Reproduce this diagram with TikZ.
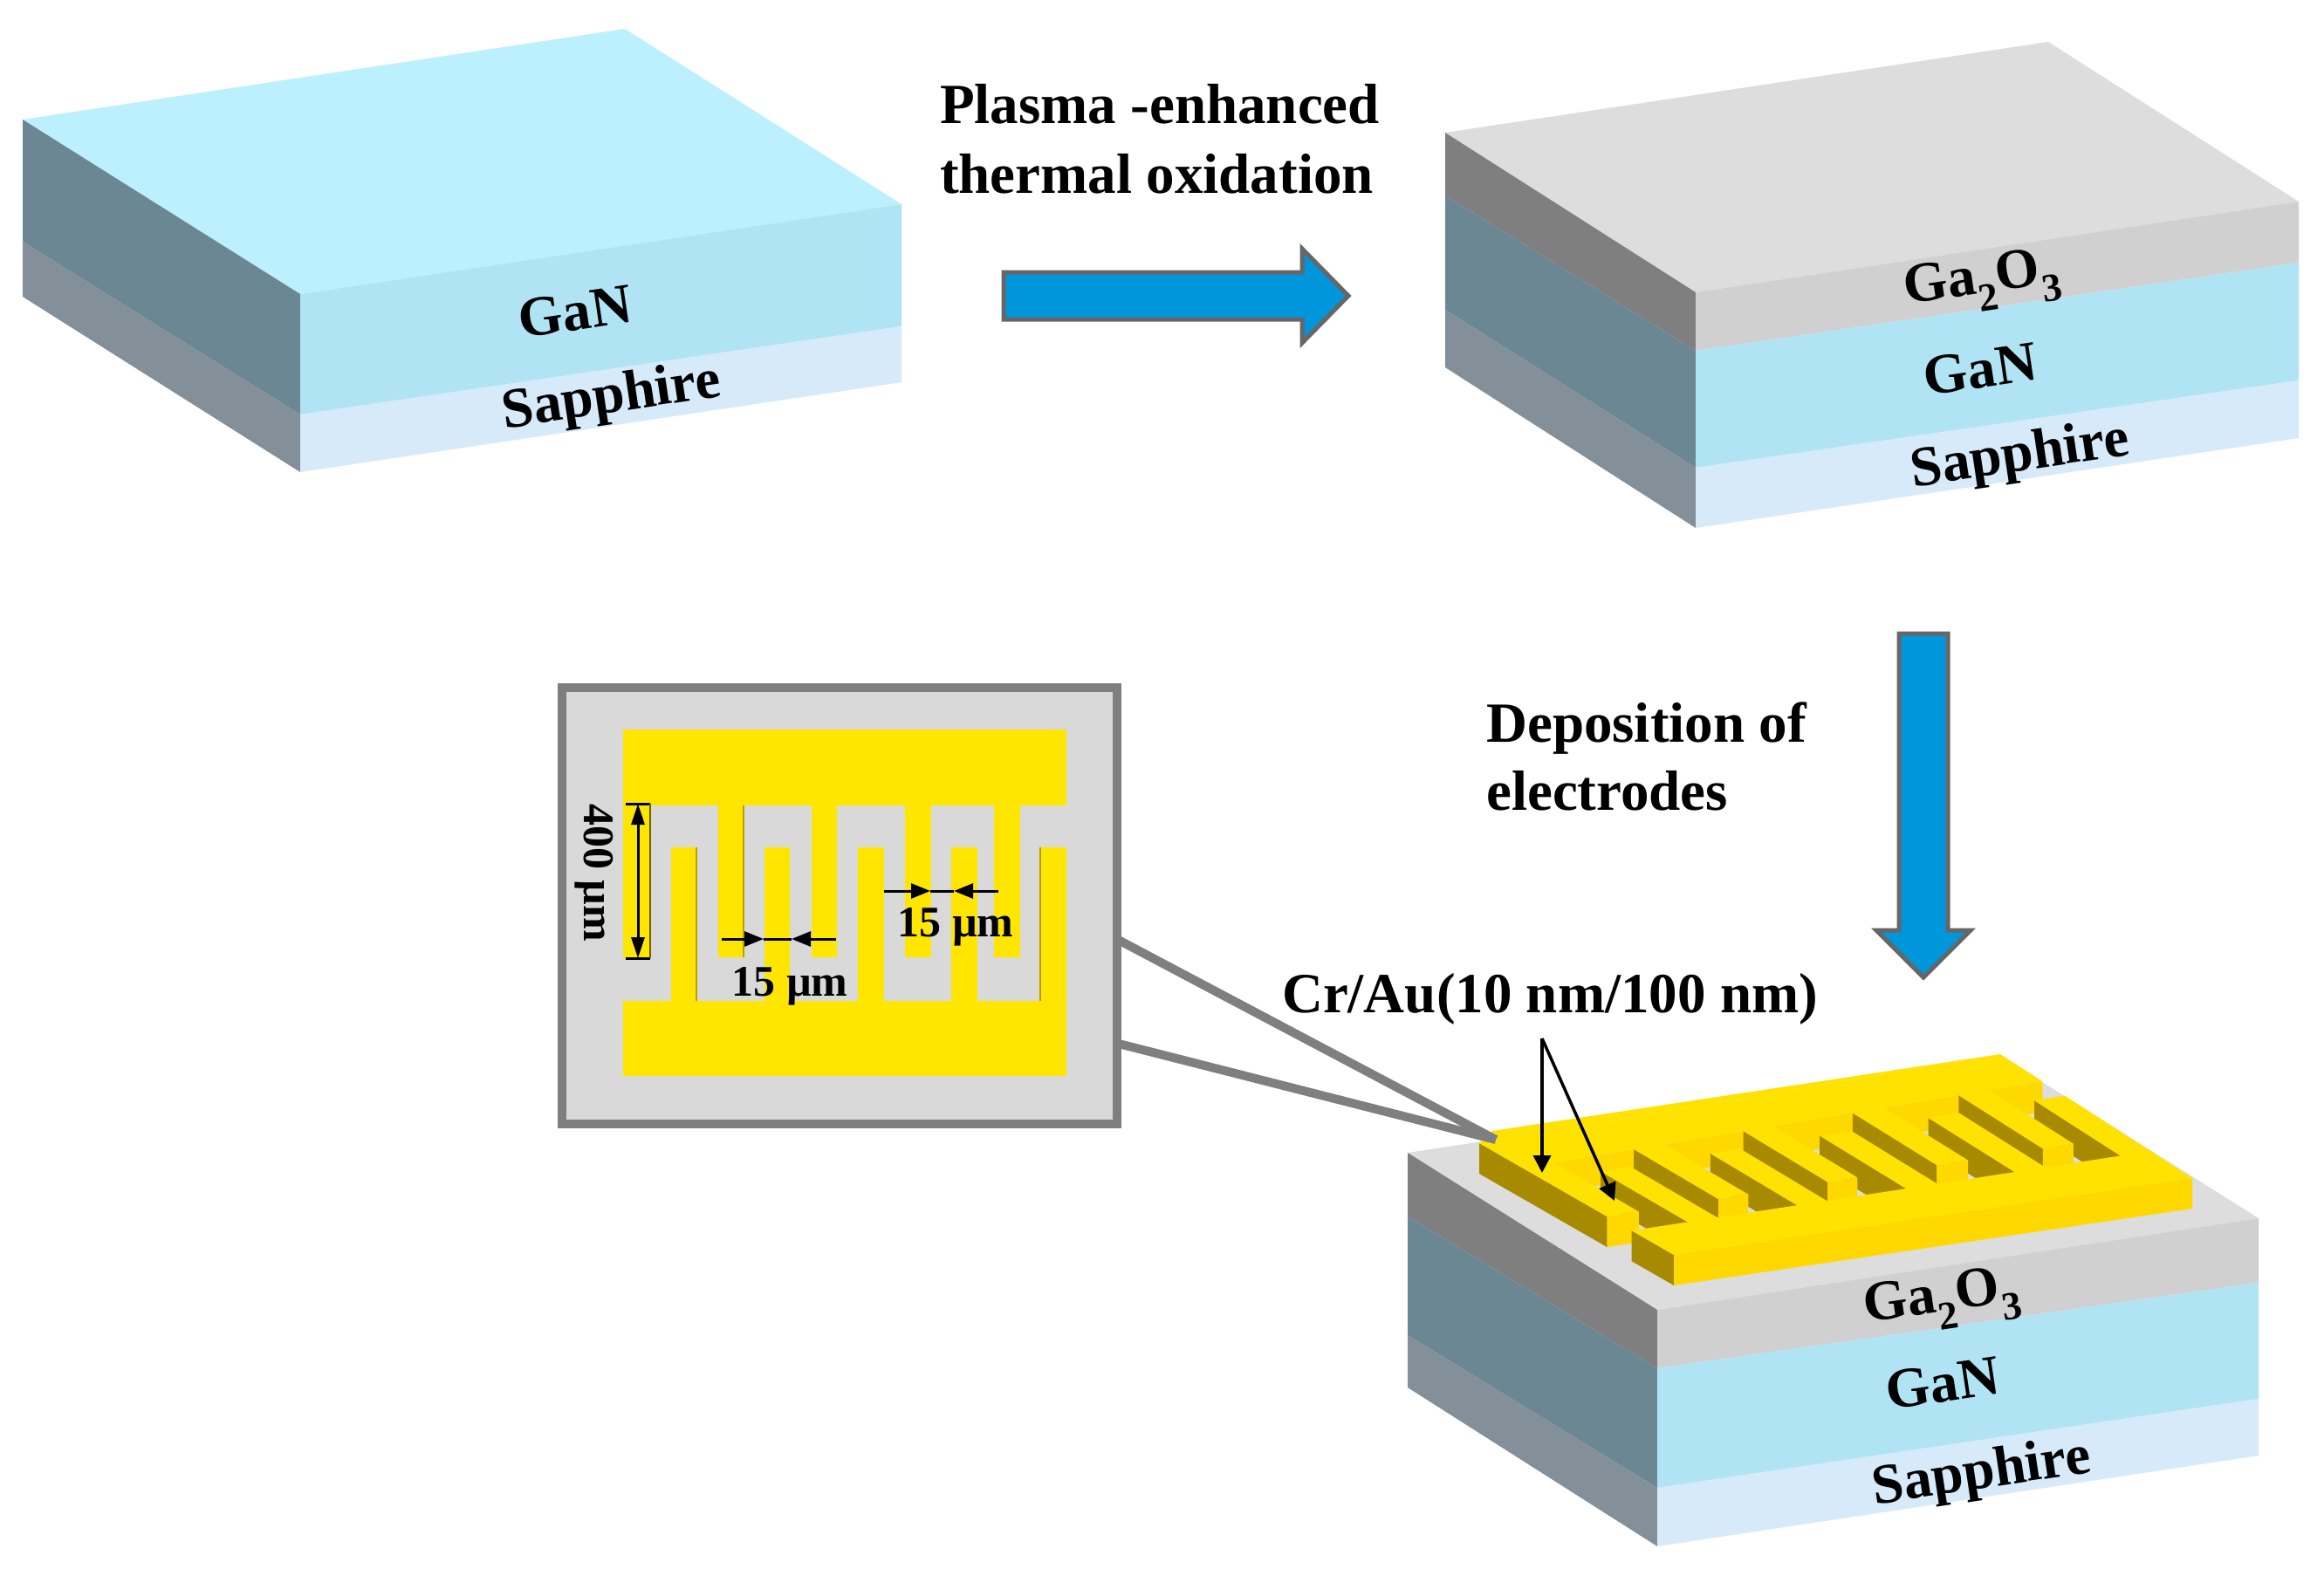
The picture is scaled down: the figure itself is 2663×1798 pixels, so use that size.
\documentclass[tikz,border=0pt]{standalone}
\usepackage{fontspec}
\setmainfont{Liberation Serif}
\usetikzlibrary{calc,arrows.meta}
\definecolor{topblue}{HTML}{BDF0FF}
\definecolor{ganfront}{HTML}{B0E4F5}
\definecolor{ganside}{HTML}{6C8794}
\definecolor{sapfront}{HTML}{D6EAF9}
\definecolor{sapside}{HTML}{838F99}
\definecolor{oxtop}{HTML}{DDDDDD}
\definecolor{oxfront}{HTML}{D0D0D0}
\definecolor{oxside}{HTML}{7F7F7F}
\definecolor{goldtop}{HTML}{FFE200}
\definecolor{goldfront}{HTML}{FFD800}
\definecolor{goldside}{HTML}{A88A00}
\definecolor{inset}{HTML}{FFE600}
\definecolor{insetedge}{HTML}{B89F00}
\definecolor{arrowblue}{HTML}{0096DC}
\tikzset{
  head/.style={font=\bfseries\fontsize{65}{78}\selectfont,inner sep=0pt,anchor=base west},
  lay/.style={font=\bfseries\fontsize{65}{70}\selectfont,inner sep=0pt,rotate=8.5},
  dim/.style={font=\bfseries\fontsize{50}{56}\selectfont,inner sep=0pt,anchor=base},
  flow/.style={draw=black!60,line width=5pt,fill=arrowblue,line join=miter},
  zoomline/.style={draw=oxside,line width=10pt},
  lead/.style={draw=black,line width=3.5pt,-{Stealth[length=20pt,width=20pt,inset=0pt]}},
  tick/.style={draw=black,line width=3pt,-{Stealth[length=22pt,width=17pt,inset=0pt]}},
}
% point on the electrode plane, u along the bus, v in depth
\newcommand{\cp}[3]{\coordinate (#3) at ($($(P00)!#2!(P01)$)!#1!($(P10)!#2!(P11)$)$);}
% one gold box: left face, front face, top face
\newcommand{\gbox}[4]{
  \cp{#1}{#3}{ga}
  \cp{#2}{#3}{gb}
  \cp{#2}{#4}{gc}
  \cp{#1}{#4}{gd}
  \fill[goldside] (ga) -- (gd) -- ($(gd)+(0,35)$) -- ($(ga)+(0,35)$) -- cycle;
  \fill[goldfront] (gd) -- (gc) -- ($(gc)+(0,35)$) -- ($(gd)+(0,35)$) -- cycle;
  \fill[goldtop] (ga) -- (gb) -- (gc) -- (gd) -- cycle;
}
\begin{document}
\begin{tikzpicture}[x=1pt,y=-1pt]
\fill[white] (0,0) rectangle (2663,1798);
\useasboundingbox (0,0) rectangle (2663,1798);

% block 1
\fill[topblue] (26,137) -- (716,33) -- (1033,234) -- (344,337) -- cycle;
\fill[ganside] (26,137) -- (344,337) -- (344,475) -- (26,277) -- cycle;
\fill[sapside] (26,277) -- (344,475) -- (344,541) -- (26,340) -- cycle;
\fill[ganfront] (344,337) -- (1033,234) -- (1033,374) -- (344,475) -- cycle;
\fill[sapfront] (344,475) -- (1033,374) -- (1033,438) -- (344,541) -- cycle;
\node[lay] (gan1) at (659,357) {GaN};
\node[lay] (sap1) at (701,457) {Sapphire};

% block 2
\fill[oxtop] (1656,152) -- (2347,48) -- (2634,231) -- (1943,335) -- cycle;
\fill[oxside] (1656,152) -- (1943,335) -- (1943,402) -- (1656,224) -- cycle;
\fill[ganside] (1656,224) -- (1943,402) -- (1943,536) -- (1656,355) -- cycle;
\fill[sapside] (1656,355) -- (1943,536) -- (1943,605) -- (1656,421) -- cycle;
\fill[oxfront] (1943,335) -- (2634,231) -- (2634,301) -- (1943,402) -- cycle;
\fill[ganfront] (1943,402) -- (2634,301) -- (2634,436) -- (1943,536) -- cycle;
\fill[sapfront] (1943,536) -- (2634,436) -- (2634,502) -- (1943,605) -- cycle;
\node[lay] (ox2) at (2272,325) {Ga\textsubscript{2}O\textsubscript{3}};
\node[lay] (gan2) at (2269,423) {GaN};
\node[lay] (sap2) at (2315,524) {Sapphire};

% block 3
\fill[oxtop] (1613,1321) -- (2302,1216) -- (2588,1396) -- (1899,1501) -- cycle;
\fill[oxside] (1613,1321) -- (1899,1501) -- (1899,1568) -- (1613,1394) -- cycle;
\fill[ganside] (1613,1394) -- (1899,1568) -- (1899,1705) -- (1613,1530) -- cycle;
\fill[sapside] (1613,1530) -- (1899,1705) -- (1899,1772) -- (1613,1590) -- cycle;
\fill[oxfront] (1899,1501) -- (2588,1396) -- (2588,1470) -- (1899,1568) -- cycle;
\fill[ganfront] (1899,1568) -- (2588,1470) -- (2588,1603) -- (1899,1705) -- cycle;
\fill[sapfront] (1899,1705) -- (2588,1603) -- (2588,1668) -- (1899,1772) -- cycle;
\node[lay] (ox3) at (2226,1492) {Ga\textsubscript{2}O\textsubscript{3}};
\node[lay] (gan3) at (2226,1585) {GaN};
\node[lay] (sap3) at (2271,1690) {Sapphire};

% electrodes on block 3
\coordinate (P00) at (1695,1310);
\coordinate (P10) at (2292,1208);
\coordinate (P01) at (1918,1438);
\coordinate (P11) at (2512,1350);
\gbox{0}{1}{0}{0.22}
\foreach \a/\b/\c/\d in {
  0.942/1/0.335/0.8, 0.839/0.898/0.22/0.657, 0.738/0.797/0.335/0.8,
  0.635/0.695/0.22/0.657, 0.529/0.589/0.335/0.8, 0.425/0.482/0.22/0.657,
  0.319/0.376/0.335/0.8, 0.2146/0.272/0.22/0.657, 0.108/0.165/0.335/0.8,
  0/0.061/0.22/0.657}{
  \gbox{\a}{\b}{\c}{\d}
}
\gbox{0}{1}{0.783}{1}
\fill[goldtop] (P00) -- (1710,1296) -- (P10) -- cycle;

% inset
\coordinate (zu) at (1270,1071);
\coordinate (zl) at (1270,1193);
\coordinate (ze) at (1714,1306);
\draw[zoomline] (zu) -- (ze);
\draw[zoomline] (zl) -- (ze);
\node[draw=oxside,line width=10pt,fill=oxtop!98!black,minimum width=636pt,minimum height=500pt,inner sep=0pt] (frame) at (961.5,1037.5) {};
\fill[inset] (714,836) rectangle (1222,923);
\fill[inset] (714,1147) rectangle (1222,1233);
\foreach \a/\b in {714/745,823/852,930/959,1037/1067,1139/1169}{
  \fill[inset] (\a,923) rectangle (\b,1097);
}
\foreach \a/\b in {769/798,876/905,983/1013,1090/1120,1192/1222}{
  \fill[inset] (\a,971) rectangle (\b,1147);
}
\foreach \a/\b/\c in {798/971/1147,852/923/1097,1192/971/1147}{
  \draw[insetedge,line width=2pt] (\a,\b) -- (\a,\c);
}

% 400 um dimension
\coordinate (ta) at (731,921);
\coordinate (tb) at (731,1098);
\draw[black,line width=3pt] (717,921) -- (745,921);
\draw[black,line width=3pt] (717,1098) -- (745,1098);
\draw[insetedge!60!black,line width=2pt] (745,921) -- (745,1098);
\draw[draw=black,line width=3pt,{Stealth[length=24pt,width=15pt,inset=0pt]}-{Stealth[length=24pt,width=15pt,inset=0pt]}] (ta) -- (tb);
\node[dim,rotate=-90] (d400) at (669,1000) {400 µm};

% 15 um dimensions
\coordinate (la) at (827,1076);
\coordinate (lb) at (875,1076);
\coordinate (lc) at (907,1076);
\coordinate (ld) at (958,1076);
\draw[draw=black,line width=3pt] (lb) -- (lc);
\draw[tick] (la) -- (lb);
\draw[tick] (ld) -- (lc);
\node[dim] (d15a) at (905,1141) {15 µm};
\coordinate (ua) at (1013,1021);
\coordinate (ub) at (1066,1021);
\coordinate (uc) at (1093,1021);
\coordinate (ud) at (1144,1021);
\draw[draw=black,line width=3pt] (ub) -- (uc);
\draw[tick] (ua) -- (ub);
\draw[tick] (ud) -- (uc);
\node[dim] (d15b) at (1095,1073) {15 µm};

% process arrows
\draw[flow] (1150,312) -- (1492,312) -- (1492,285) -- (1545,339) -- (1492,393) -- (1492,366) -- (1150,366) -- cycle;
\draw[flow] (2176,726) -- (2232,726) -- (2232,1066) -- (2258,1066) -- (2204,1120) -- (2150,1066) -- (2176,1066) -- cycle;

% captions
\node[head] (cap1a) at (1077,142) {Plasma -enhanced};
\node[head] (cap1b) at (1077,222) {thermal oxidation};
\node[head] (cap2a) at (1703,850) {Deposition of};
\node[head] (cap2b) at (1703,928) {electrodes};
\node[head,anchor=base] (crau) at (1776,1160) {Cr/Au(10 nm/100 nm)};
\coordinate (apex) at (1767,1190);
\coordinate (tip1) at (1767,1344);
\coordinate (tip2) at (1850,1376);
\draw[lead] (apex) -- (tip1);
\draw[lead] (apex) -- (tip2);
\end{tikzpicture}
\end{document}
